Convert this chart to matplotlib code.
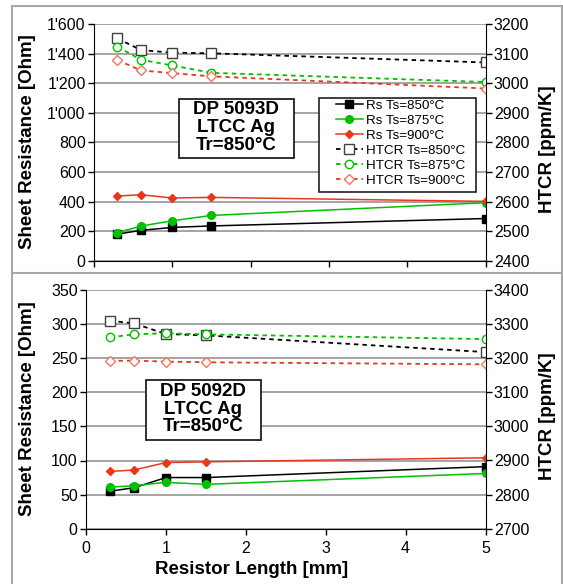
import matplotlib
matplotlib.use("Agg")
import matplotlib.pyplot as plt
from matplotlib.lines import Line2D
from matplotlib.patches import Rectangle
from matplotlib.ticker import FuncFormatter, MultipleLocator

plt.rcParams['font.family'] = ['Liberation Sans', 'DejaVu Sans']

# Resistor lengths [mm]
lengths = [0.3, 0.6, 1.0, 1.5, 5.0]

# DP 5093D - sheet resistance [Ohm]
rs_5093_850 = [180, 205, 225, 235, 285]
rs_5093_875 = [190, 234, 270, 306, 392]
rs_5093_900 = [437, 446, 424, 428, 401]
# DP 5093D - HTCR [ppm/K]
htcr_5093_850 = [3151, 3112, 3103, 3101, 3070]
htcr_5093_875 = [3123, 3079, 3060, 3035, 3004]
htcr_5093_900 = [3078, 3043, 3034, 3023, 2982]

# DP 5092D - sheet resistance [Ohm]
rs_5092_850 = [55, 60, 75, 75, 91]
rs_5092_875 = [61, 63, 68, 65, 81]
rs_5092_900 = [84, 86, 97, 98, 104]
# DP 5092D - HTCR [ppm/K]
htcr_5092_850 = [3310, 3302, 3271, 3267, 3218]
htcr_5092_875 = [3261, 3270, 3273, 3270, 3256]
htcr_5092_900 = [3192, 3193, 3190, 3188, 3182]

rs_labels = ['Rs Ts=850°C', 'Rs Ts=875°C', 'Rs Ts=900°C']
htcr_labels = ['HTCR Ts=850°C', 'HTCR Ts=875°C', 'HTCR Ts=900°C']

BLACK = '#000000'
GREEN = '#00c000'
RED = '#e8381c'
SALMON = '#f07860'
GRID = '#8c8c8c'

W, H = 563, 584
fig = plt.figure(figsize=(W / 100, H / 100), dpi=100)


def box(x0, y0, x1, y1):
    # pixel box -> figure fraction rect
    return [x0 / W, 1 - y1 / H, (x1 - x0) / W, (y1 - y0) / H]


def thousands(v, pos):
    v = int(round(v))
    if v >= 1000:
        return f"{v // 1000}'{v % 1000:03d}"
    return str(v)


def framed_rect(x0, y0, x1, y1, lw=1.3):
    r = Rectangle((x0 / W, 1 - y1 / H), (x1 - x0) / W, (y1 - y0) / H,
                  transform=fig.transFigure, fc='white', ec='#202020', lw=lw, zorder=5)
    fig.add_artist(r)


def draw_panel(ax, rs, htcr, ylim, ystep, y2lim, y2step, lab_left, lab_right):
    ax2 = ax.twinx()
    rs_styles = [
        dict(color=BLACK, marker='s', ms=5.5, mfc=BLACK, mec=BLACK),
        dict(color=GREEN, marker='o', ms=5.5, mfc=GREEN, mec=GREEN),
        dict(color=RED, marker='D', ms=4, mfc=RED, mec=RED),
    ]
    htcr_styles = [
        dict(color=BLACK, marker='s', ms=6.5, mfc='white', mec='#404040'),
        dict(color=GREEN, marker='o', ms=6, mfc='white', mec=GREEN),
        dict(color=RED, marker='D', ms=5, mfc='white', mec=SALMON),
    ]
    handles = []
    for vals, st, lab in zip(rs, rs_styles, rs_labels):
        h, = ax.plot(lengths, vals, lw=1.1, label=lab, mew=1, **st)
        handles.append(h)
    for vals, st, lab in zip(htcr, htcr_styles, htcr_labels):
        h, = ax2.plot(lengths, vals, lw=1.3, ls=(0, (2.5, 2.2)), label=lab, mew=1, **st)
        handles.append(h)

    ax.set_xlim(0, 5)
    ax.set_ylim(*ylim)
    ax2.set_ylim(*y2lim)
    ax.xaxis.set_major_locator(MultipleLocator(1))
    ax.yaxis.set_major_locator(MultipleLocator(ystep))
    ax2.yaxis.set_major_locator(MultipleLocator(y2step))
    ax.yaxis.grid(True, color=GRID, lw=1.1)
    ax.set_axisbelow(True)

    for a in (ax, ax2):
        a.spines['top'].set_visible(False)
        a.tick_params(direction='out', length=4, width=1, labelsize=11.5, pad=2, colors='black')
    ax.tick_params(axis='x', pad=5)
    ax.spines['right'].set_visible(False)
    ax2.spines['left'].set_visible(False)
    ax2.spines['bottom'].set_visible(False)

    ax.set_ylabel('Sheet Resistance [Ohm]', fontsize=13.5, fontweight='bold')
    ax2.set_ylabel('HTCR [ppm/K]', fontsize=13.5, fontweight='bold', rotation=90)
    ax.yaxis.set_label_coords(lab_left, 0.505)
    ax2.yaxis.set_label_coords(lab_right, 0.47)
    return ax2, handles


# top panel: DP 5093D
ax_top = fig.add_axes(box(94, 24, 485.5, 260.7))
ax_top2, handles = draw_panel(
    ax_top,
    [rs_5093_850, rs_5093_875, rs_5093_900],
    [htcr_5093_850, htcr_5093_875, htcr_5093_900],
    (0, 1600), 200, (2400, 3200), 100, -0.148, 1.136)
ax_top.yaxis.set_major_formatter(FuncFormatter(thousands))
ax_top.tick_params(axis='x', labelbottom=False)

# bottom panel: DP 5092D
ax_bot = fig.add_axes(box(86, 290, 485.5, 528.7))
ax_bot2, _ = draw_panel(
    ax_bot,
    [rs_5092_850, rs_5092_875, rs_5092_900],
    [htcr_5092_850, htcr_5092_875, htcr_5092_900],
    (0, 350), 50, (2700, 3400), 100, -0.125, 1.133)
ax_bot.set_xlabel('Resistor Length [mm]', fontsize=13.5, fontweight='bold')
ax_bot.xaxis.set_label_coords(0.415, -0.135)

# annotation boxes
txt_kw = dict(ha='center', va='center', fontsize=13.5, fontweight='bold',
              linespacing=1.05, zorder=6)
framed_rect(178.5, 99, 293.5, 157.5)
fig.text(236 / W, 1 - 127.5 / H, 'DP 5093D\nLTCC Ag\nTr=850°C', **txt_kw)
framed_rect(145.5, 380, 261, 439.5)
fig.text(203 / W, 1 - 409 / H, 'DP 5092D\nLTCC Ag\nTr=850°C', **txt_kw)

# legend
framed_rect(319, 98, 476, 192, lw=1.2)
leg = fig.legend(handles=handles, loc='upper left', bbox_to_anchor=(336 / W, 1 - 99.5 / H),
                 fontsize=9.6, frameon=False, handlelength=2.0, handletextpad=0.25,
                 labelspacing=0.205, borderpad=0, borderaxespad=0)
leg.set_zorder(7)

# outer frame
fc = '#a8a8a8'
fig.add_artist(Line2D([12 / W, 12 / W], [0, 1 - 6 / H], color=fc, lw=1.5))
fig.add_artist(Line2D([12 / W, 561.5 / W], [1 - 6 / H, 1 - 6 / H], color=fc, lw=1.5))
fig.add_artist(Line2D([561.5 / W, 561.5 / W], [0, 1 - 6 / H], color=fc, lw=1.5))
fig.add_artist(Line2D([12 / W, 561.5 / W], [1 - 273 / H, 1 - 273 / H], color=fc, lw=1.5))

fig.savefig('out.png', dpi=100)
